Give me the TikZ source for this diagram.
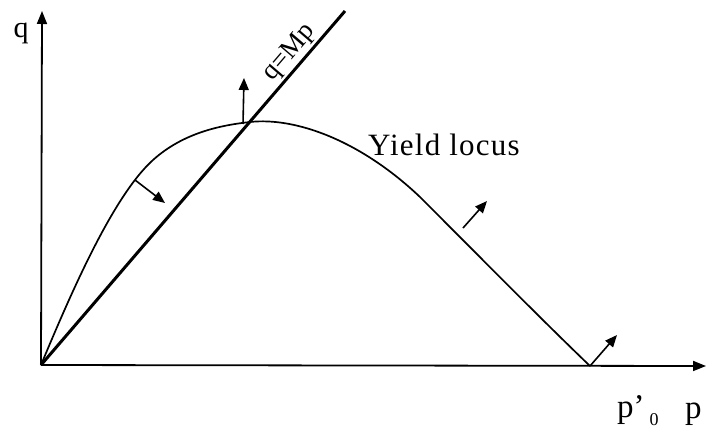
\documentclass[tikz,border=0pt]{standalone}
\usepackage{fontspec}
\setmainfont{Liberation Serif}
\usetikzlibrary{arrows.meta}
\begin{document}
\begin{tikzpicture}[x=1pt,y=-1pt,
  axis/.style={line width=1.8pt,-{Triangle[length=13pt,width=10pt]}},
  normalarrow/.style={line width=1.6pt,-{Triangle[length=12pt,width=10pt]}},
  lbl/.style={inner sep=0pt,font=\fontsize{30}{30}\selectfont}]
\useasboundingbox (0,0) rectangle (707,432);
\coordinate (O) at (41,365);
\coordinate (Ytop) at (42,11);
\coordinate (Xend) at (706,366);
\coordinate (Ltop) at (345,11);
\coordinate (P0) at (590,366);
\coordinate (I) at (243,124);
\coordinate (Itip) at (244,78);
\coordinate (A1) at (135,180);
\coordinate (A1tip) at (165,203);
\coordinate (A2) at (463,228);
\coordinate (A2tip) at (487,201);
\coordinate (P0tip) at (617,335);
% axes
\draw[axis] (O) -- (Ytop);
\draw[axis] (O) -- (Xend);
% critical state line
\draw[line width=3pt] (O) -- (Ltop);
% yield locus
\draw[line width=1.7pt] (O) .. controls (71,293) and (113,196) .. (153,160)
  .. controls (183,133) and (220,125.3) .. (250,122)
  .. controls (295,117) and (360,140) .. (420,197)
  .. controls (477,254) and (540,318) .. (P0);
% normal arrows
\draw[normalarrow] (A1) -- (A1tip);
\draw[normalarrow] (I) -- (Itip);
\draw[normalarrow] (A2) -- (A2tip);
\draw[normalarrow] (P0) -- (P0tip);
% labels
\node[lbl,anchor=base] (qlab) at (21,37) {q};
\node[lbl,anchor=base west,font=\fontsize{31}{31}\selectfont\addfontfeature{LetterSpace=4}] (yl) at (368,155) {Yield locus};
\node[lbl,anchor=south,rotate=49.4,inner sep=2pt,font=\fontsize{27}{27}\selectfont] (cs) at (300,62) {q=Mp};
\node[inner sep=0pt,anchor=base west,font=\fontsize{33}{33}\selectfont] (p0) at (617,417) {p’\hspace{5pt}\raisebox{-8pt}{\fontsize{18}{18}\selectfont 0}};
\node[inner sep=0pt,anchor=base west,font=\fontsize{33}{33}\selectfont] (plab) at (685,418) {p};
\end{tikzpicture}
\end{document}
